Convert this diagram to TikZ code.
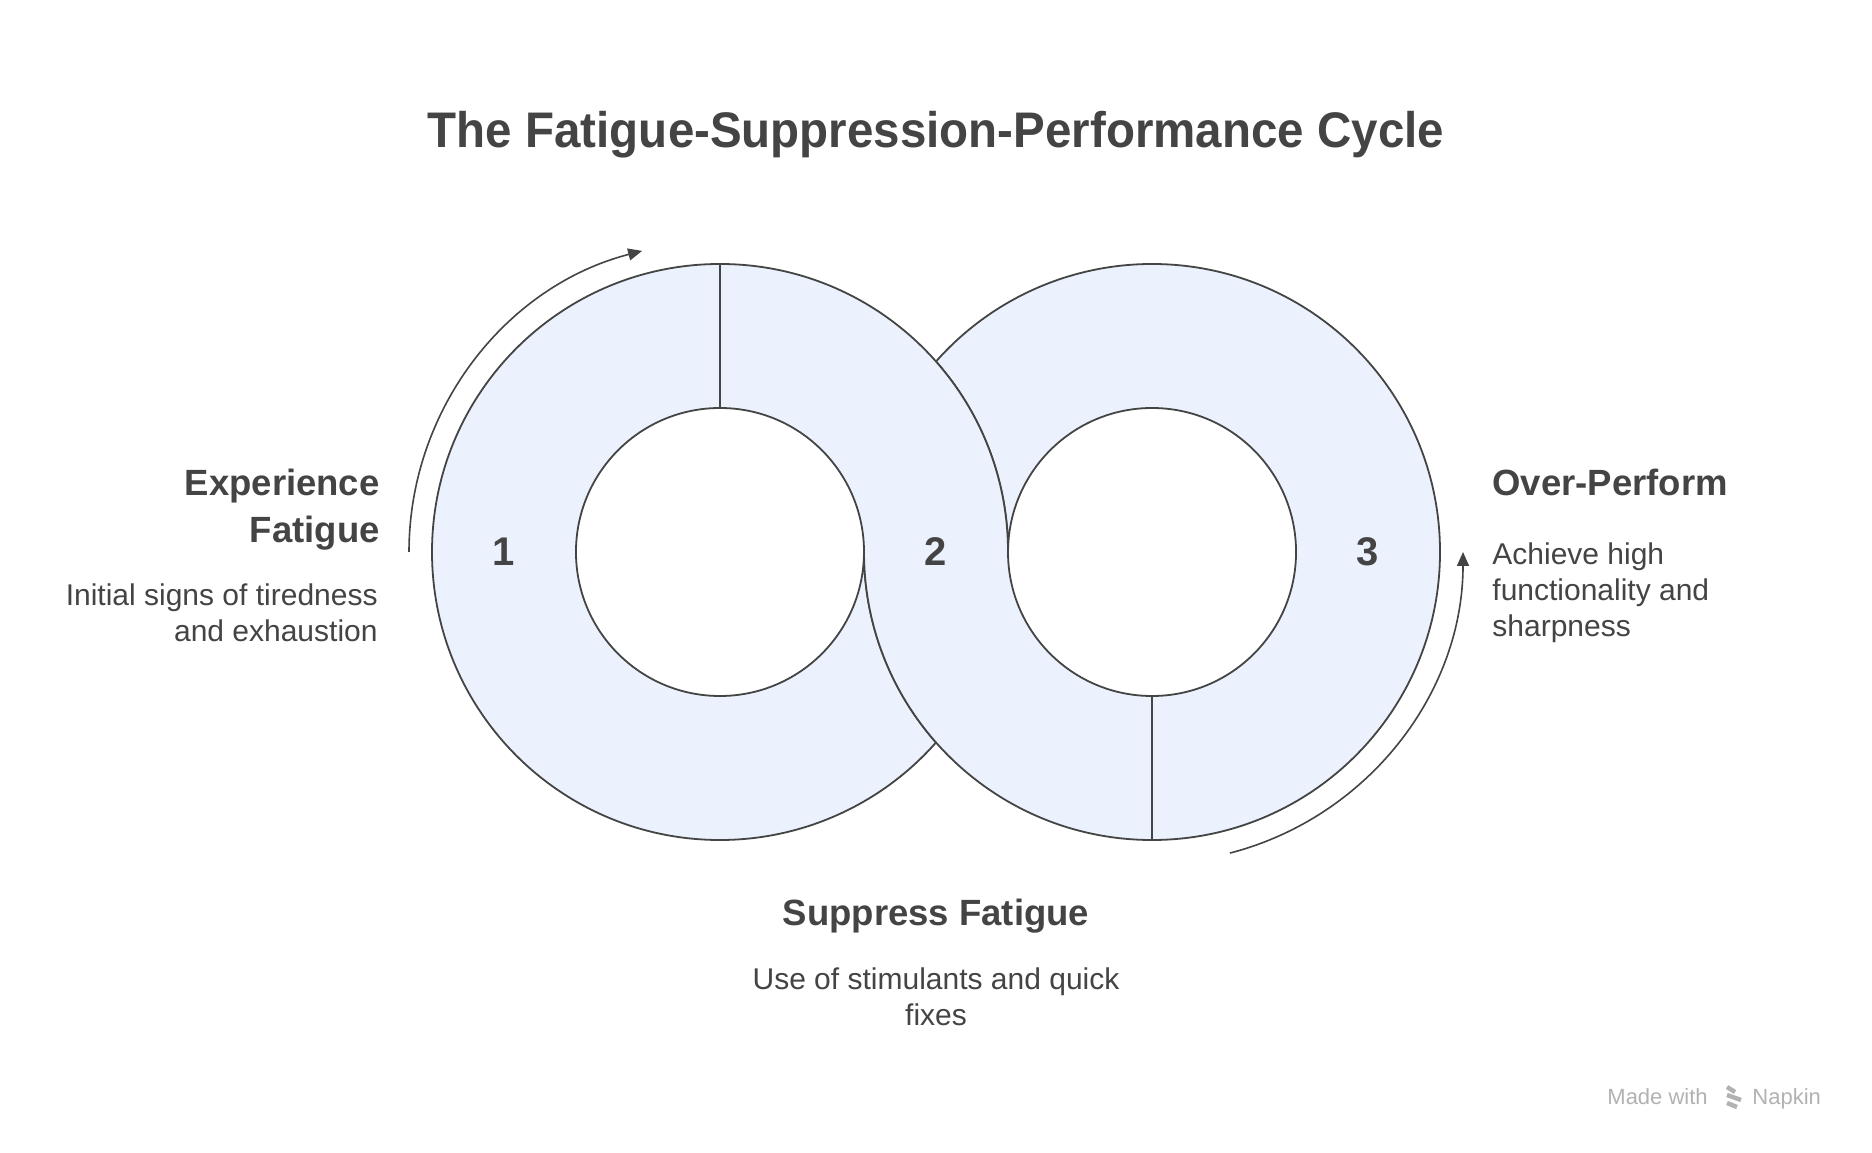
\documentclass[tikz,border=0pt]{standalone}
\usepackage{fontspec}
\setmainfont{Liberation Sans}
\newfontfamily\titlefont[FakeStretch=0.95]{Liberation Sans}
\usetikzlibrary{arrows.meta,calc}
\definecolor{ink}{RGB}{68,68,68}
\definecolor{ringfill}{RGB}{235,242,254}
\definecolor{wmgray}{RGB}{178,178,178}
\tikzset{
  seg/.style={fill=ringfill, draw=ink, line width=0.9pt, line join=round},
  cyc/.style={draw=ink, line width=0.8pt, -{Triangle[length=7pt,width=6pt]}},
  ttl/.style={font=\titlefont\bfseries\fontsize{25}{30}\selectfont, text=ink, inner sep=0pt},
  head/.style={font=\bfseries\fontsize{18.25}{22}\selectfont, text=ink, inner sep=0pt},
  desc/.style={font=\fontsize{15}{18}\selectfont, text=ink, inner sep=0pt},
  num/.style={font=\bfseries\fontsize{20}{24}\selectfont, text=ink, inner sep=0pt, anchor=base},
  wm/.style={font=\fontsize{11}{13}\selectfont, text=wmgray, inner sep=0pt}
}
\begin{document}
\begin{tikzpicture}[x=0.5pt,y=0.5pt]
\useasboundingbox (0,0) rectangle (1872,1152);
\fill[white] (0,0) rectangle (1872,1152);

% centres
\coordinate (cl) at (720,600);
\coordinate (cr) at (1152,600);

% segment 1 (left loop)
\path[seg] (720,888) arc[start angle=90, end angle=318.59, radius=288]
  arc[start angle=221.41, end angle=180, radius=288]
  arc[start angle=360, end angle=90, radius=144] -- cycle;
% segment 3 (right loop)
\path[seg] (1152,312) arc[start angle=-90, end angle=138.59, radius=288]
  arc[start angle=41.41, end angle=0, radius=288]
  arc[start angle=180, end angle=-90, radius=144] -- cycle;
% segment 2 (crossing band)
\path[seg] (720,888) arc[start angle=90, end angle=0, radius=288]
  arc[start angle=180, end angle=270, radius=144]
  -- (1152,312)
  arc[start angle=270, end angle=180, radius=288]
  arc[start angle=0, end angle=90, radius=144] -- cycle;

% cycle arrows
\coordinate (a1s) at (409,600);
\coordinate (a2s) at ($(cr)+(-75.5:311)$);
\draw[cyc] (a1s) arc[start angle=180, end angle=104.5, radius=311];
\draw[cyc] (a2s) arc[start angle=-75.5, end angle=0, radius=311];

% numbers
\node[num] (n1) at (504,586) {1};
\node[num] (n2) at (936,586) {2};
\node[num] (n3) at (1368,586) {3};

% title
\node[ttl, anchor=base] (title) at (936,1004.7) {The Fatigue-Suppression-Performance Cycle};

% left labels
\node[head, anchor=base east] (h1a) at (380,656) {Experience};
\node[head, anchor=base east] (h1b) at (380,609) {Fatigue};
\node[desc, anchor=base east] (d1a) at (378,546) {Initial signs of tiredness};
\node[desc, anchor=base east] (d1b) at (378,510) {and exhaustion};

% right labels
\node[head, anchor=base west] (h3) at (1492,656) {Over-Perform};
\node[desc, anchor=base west] (d3a) at (1492,587) {Achieve high};
\node[desc, anchor=base west] (d3b) at (1492,551) {functionality and};
\node[desc, anchor=base west] (d3c) at (1492,515) {sharpness};

% bottom labels
\node[head, anchor=base] (h2) at (936,227) {Suppress Fatigue};
\node[desc, anchor=base] (d2a) at (936,163) {Use of stimulants and quick};
\node[desc, anchor=base] (d2b) at (936,127) {fixes};

% watermark
\node[wm, anchor=base west] (wm1) at (1607,48) {Made with};
\node[wm, anchor=base west] (wm2) at (1752,48) {Napkin};
\begin{scope}[draw=wmgray, line width=2.2pt]
  \draw (1727,65) -- (1735,60);
  \draw (1727,57) -- (1741,52);
  \draw (1727,49) -- (1737,45);
\end{scope}
\end{tikzpicture}
\end{document}
